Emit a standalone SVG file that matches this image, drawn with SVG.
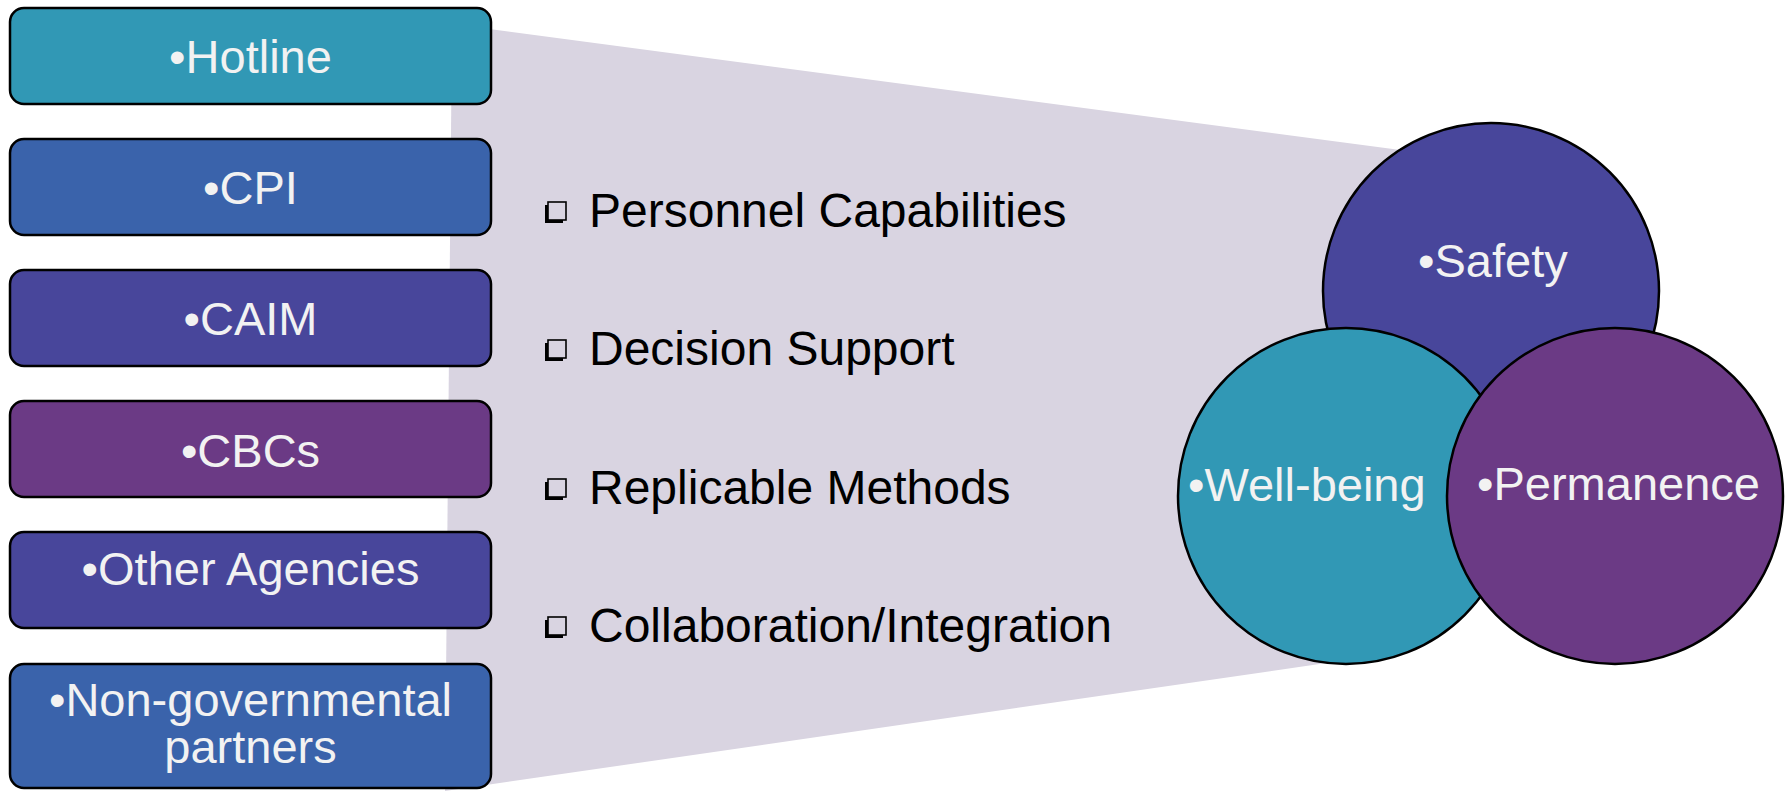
<svg xmlns="http://www.w3.org/2000/svg" width="1787" height="791" viewBox="0 0 1787 791">
  <style>
    .box { stroke: #000; stroke-width: 2.5; }
    .ring { stroke: #000; stroke-width: 2.5; }
    .lbl { font-family: "Liberation Sans", Arial, sans-serif; font-size: 47px; fill: #f2f2f2; }
    .mid { font-family: "Liberation Sans", Arial, sans-serif; font-size: 48px; fill: #000; }
    .teal { fill: #3198b5; }
    .blue { fill: #3a63ab; }
    .indigo { fill: #48469b; }
    .plum { fill: #6b3a85; }
  </style>
  <defs>
    <!-- drop-shadowed square bullet -->
    <g id="sqbullet">
      <rect x="0" y="3" width="18" height="18" fill="#000"/>
      <rect x="3" y="0" width="18" height="18" fill="#d9d4e1" stroke="#000" stroke-width="1.6"/>
    </g>
  </defs>

  <rect width="1787" height="791" fill="#fff"/>

  <!-- funnel band behind everything -->
  <polygon id="band" points="452,24 1491,162 1340,661 445,791" fill="#d9d4e1"/>

  <!-- focus list -->
  <g id="focus-list">
    <use href="#sqbullet" x="545" y="202"/>
    <text class="mid" x="589" y="227">Personnel Capabilities</text>
    <use href="#sqbullet" x="545" y="340"/>
    <text class="mid" x="589" y="365">Decision Support</text>
    <use href="#sqbullet" x="545" y="479"/>
    <text class="mid" x="589" y="504">Replicable Methods</text>
    <use href="#sqbullet" x="545" y="617"/>
    <text class="mid" x="589" y="642">Collaboration/Integration</text>
  </g>

  <!-- source boxes -->
  <g id="hotline">
    <rect class="box teal" x="10" y="8" width="481" height="96" rx="14"/>
    <text class="lbl" x="250.5" y="73" text-anchor="middle">•Hotline</text>
  </g>
  <g id="cpi">
    <rect class="box blue" x="10" y="139" width="481" height="96" rx="14"/>
    <text class="lbl" x="250.5" y="204" text-anchor="middle">•CPI</text>
  </g>
  <g id="caim">
    <rect class="box indigo" x="10" y="270" width="481" height="96" rx="14"/>
    <text class="lbl" x="250.5" y="335" text-anchor="middle">•CAIM</text>
  </g>
  <g id="cbcs">
    <rect class="box plum" x="10" y="401" width="481" height="96" rx="14"/>
    <text class="lbl" x="250.5" y="467" text-anchor="middle">•CBCs</text>
  </g>
  <g id="other-agencies">
    <rect class="box indigo" x="10" y="532" width="481" height="96" rx="14"/>
    <text class="lbl" x="250.5" y="585" text-anchor="middle">•Other Agencies</text>
  </g>
  <g id="ngo-partners">
    <rect class="box blue" x="10" y="664" width="481" height="124" rx="14"/>
    <text class="lbl" x="250.5" y="716" text-anchor="middle">•Non-governmental</text>
    <text class="lbl" x="250.5" y="763" text-anchor="middle">partners</text>
  </g>

  <!-- outcome circles -->
  <g id="safety">
    <ellipse class="ring indigo" cx="1491" cy="291" rx="168" ry="168"/>
    <text class="lbl" x="1418" y="277">•Safety</text>
  </g>
  <g id="well-being">
    <ellipse class="ring teal" cx="1346" cy="496" rx="168" ry="168"/>
    <text class="lbl" x="1188" y="501">•Well-being</text>
  </g>
  <g id="permanence">
    <ellipse class="ring plum" cx="1615" cy="496" rx="168" ry="168"/>
    <text class="lbl" x="1477" y="500">•Permanence</text>
  </g>

  <g id="connectors"/>
</svg>
